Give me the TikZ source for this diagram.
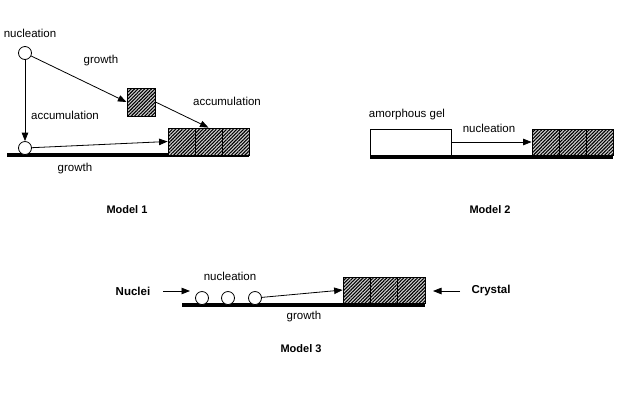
\documentclass[tikz,border=0pt]{standalone}
\usepackage{fontspec}
\setmainfont{Liberation Sans}
\usetikzlibrary{arrows.meta,patterns.meta}
\begin{document}
\begin{tikzpicture}[x=1pt,y=-1pt,
  lbl/.style={font=\fontsize{11.5}{13}\selectfont, inner sep=0pt},
  ttl/.style={font=\bfseries\fontsize{11}{13}\selectfont, inner sep=0pt},
  nuc/.style={circle, draw, fill=white, minimum size=13pt, inner sep=0pt, line width=0.8pt},
  xtal/.style={draw, line width=0.8pt, preaction={fill=gray!35}, pattern={Lines[angle=45,distance=2.4pt,line width=1.1pt]}, minimum width=27pt, minimum height=27pt, inner sep=0pt},
  gelbox/.style={draw, line width=0.8pt, fill=white, minimum width=81pt, minimum height=26pt, inner sep=0pt},
  bar/.style={line width=4pt},
  arr/.style={line width=0.8pt, -{Triangle[length=8.5pt,width=6.5pt]}}]
\useasboundingbox (0,0) rectangle (617,400);

% ---------- Model 1 ----------
\coordinate (b1s) at (7,155);
\coordinate (b1e) at (249,155);
\draw[bar] (b1s) -- (b1e);
\node[nuc] (n1) at (25,53) {};
\node[nuc] (n2) at (25,148) {};
\node[xtal, minimum width=28pt, minimum height=28pt] (s) at (141,102) {};
\node[xtal] (a1) at (181.5,141.5) {};
\node[xtal] (a2) at (208.5,141.5) {};
\node[xtal] (a3) at (235.5,141.5) {};
\draw[arr] (n1) -- (n2);
\draw[arr] (n1) -- (s.west);
\draw[arr] (s.east) -- (a2.north);
\draw[arr] (n2) -- (a1.west);
\node[lbl] (t1) at (30,33) {nucleation};
\node[lbl] (t2) at (101,61) {growth};
\node[lbl] (t3) at (65,115) {accumulation};
\node[lbl] (t4) at (227,101) {accumulation};
\node[lbl] (t5) at (75,169) {growth};
\node[ttl] (m1) at (127,210) {Model 1};

% ---------- Model 2 ----------
\coordinate (b2s) at (370,157);
\coordinate (b2e) at (613,157);
\draw[bar] (b2s) -- (b2e);
\node[gelbox] (gel) at (410.5,142) {};
\node[xtal, minimum height=26pt] (c1) at (545.5,142) {};
\node[xtal, minimum height=26pt] (c2) at (572.5,142) {};
\node[xtal, minimum height=26pt] (c3) at (599.5,142) {};
\draw[arr] (gel.east) -- (c1.west);
\node[lbl] (g1) at (407,115) {amorphous gel};
\node[lbl] (g2) at (489,128) {nucleation};
\node[ttl] (m2) at (490,210) {Model 2};

% ---------- Model 3 ----------
\coordinate (b3s) at (182,304.5);
\coordinate (b3e) at (425,304.5);
\draw[bar] (b3s) -- (b3e);
\node[nuc] (k1) at (202,298) {};
\node[nuc] (k2) at (228,298) {};
\node[nuc] (k3) at (255,298) {};
\node[xtal, minimum width=27.3pt, minimum height=26pt] (d1) at (356.7,290) {};
\node[xtal, minimum width=27.3pt, minimum height=26pt] (d2) at (384,290) {};
\node[xtal, minimum width=27.3pt, minimum height=26pt] (d3) at (411.3,290) {};
\draw[arr] (k3) -- (d1.west);
\node[ttl, font=\bfseries\fontsize{11.5}{13}\selectfont] (nu) at (133,291) {Nuclei};
\node[ttl, font=\bfseries\fontsize{11.5}{13}\selectfont] (cr) at (491,291) {Crystal};
\coordinate (na) at (163,291);
\coordinate (nb) at (190,291);
\coordinate (ca) at (460,291);
\coordinate (cb) at (433,291);
\draw[arr] (na) -- (nb);
\draw[arr] (ca) -- (cb);
\node[lbl] (h1) at (230,276) {nucleation};
\node[lbl] (h2) at (304,317) {growth};
\node[ttl] (m3) at (301,349) {Model 3};
\end{tikzpicture}
\end{document}
